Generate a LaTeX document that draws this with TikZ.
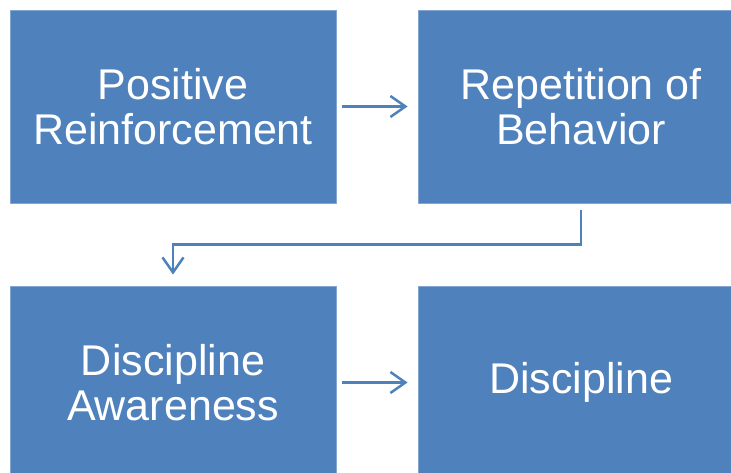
\documentclass[tikz,border=0pt]{standalone}
\usepackage{fontspec}
\setmainfont{Liberation Sans}
\usetikzlibrary{arrows.meta}
\definecolor{boxblue}{HTML}{4F81BD}
\begin{document}
\begin{tikzpicture}[x=1pt,y=-1pt,
  blockbox/.style={fill=boxblue,draw=boxblue!70!white,line width=0.8pt,minimum width=326pt,minimum height=193pt,inner sep=0pt,
    text=white,align=center,font=\fontsize{43}{45}\selectfont},
  conn/.style={draw=boxblue,line width=2.5pt,-{Straight Barb[length=15pt,width=21pt,line width=2.5pt]}}]
\useasboundingbox (0,0) rectangle (731,473);
\clip (0,0) rectangle (731,473);
\node[blockbox] (a) at (173,106.5) {Positive\\Reinforcement};
\node[blockbox] (b) at (581,106.5) {Repetition of\\Behavior};
\node[blockbox] (c) at (173,382.5) {Discipline\\Awareness};
\node[blockbox] (d) at (581,382.5) {Discipline};
\draw[conn] ([xshift=6pt]a.east) -- ([xshift=-10pt]b.west);
\draw[conn] ([yshift=-7pt]b.south) -- ++(0,34) -| ([yshift=11pt]c.north);
\draw[conn] ([xshift=6pt]c.east) -- ([xshift=-10pt]d.west);
\end{tikzpicture}
\end{document}
